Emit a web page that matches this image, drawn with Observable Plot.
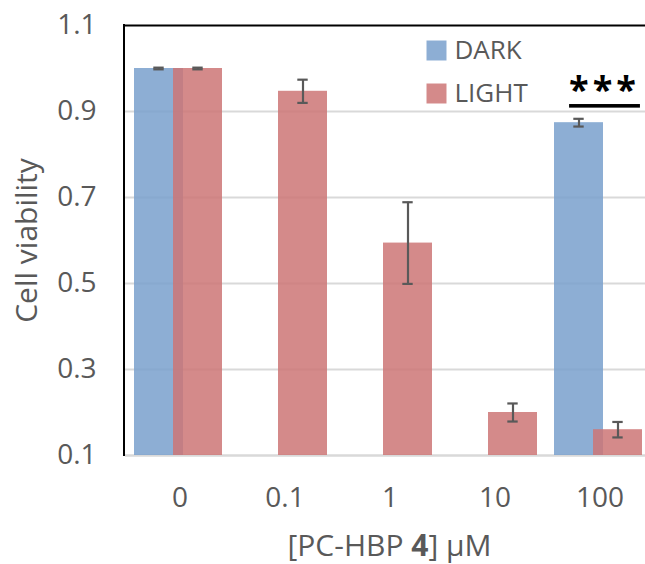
<!DOCTYPE html>
<html>
<head>
<meta charset="utf-8">
<script src="https://cdn.jsdelivr.net/npm/d3@7"></script>
<script src="https://cdn.jsdelivr.net/npm/@observablehq/plot@0.6"></script>
<style>
  html, body { margin: 0; padding: 0; background: white; overflow: hidden; }
</style>
</head>
<body>
<div id="chart"></div>
<script>
const categories = ["0", "0.1", "1", "10", "100"];
const series = ["DARK", "LIGHT"];
const darkValues = [1.000, null, null, null, 0.874];
const darkErrors = [0.002, null, null, null, 0.009];
const lightValues = [1.000, 0.947, 0.594, 0.200, 0.160];
const lightErrors = [0.002, 0.027, 0.095, 0.021, 0.018];
const yTicks = [0.1, 0.3, 0.5, 0.7, 0.9, 1.1];
const yDomain = [0.1, 1.1];
const seriesColors = ["#79A0CC", "#CC7676"];
const yTitle = "Cell viability";
const xTitleParts = ["[PC-HBP ", "4", "] \u03BCM"];
const significance = "***";

function rows(values, errors, s) {
  const out = [];
  categories.forEach((c, i) => {
    if (values[i] != null) out.push({category: c, series: s, value: values[i], err: errors[i]});
  });
  return out;
}
const darkRows = rows(darkValues, darkErrors, series[0]);
const lightRows = rows(lightValues, lightErrors, series[1]);
const caps = rs => rs.flatMap(d => [{category: d.category, y: d.value - d.err}, {category: d.category, y: d.value + d.err}]);

const textColor = "#595959";
const font = "Open Sans";

const errMarks = (rs, dx) => [
  Plot.ruleX(rs, {x: "category", y1: d => d.value - d.err, y2: d => d.value + d.err, dx, stroke: textColor, strokeWidth: 2.2}),
  Plot.tickY(caps(rs), {x: "category", y: "y", dx, insetLeft: 47.3, insetRight: 47.3, stroke: textColor, strokeWidth: 2.2})
];

const leftLine = (index, scales, values, dims) => {
  const l = document.createElementNS("http://www.w3.org/2000/svg", "line");
  l.setAttribute("x1", dims.marginLeft - 1);
  l.setAttribute("x2", dims.marginLeft - 1);
  l.setAttribute("y1", dims.marginTop - 1);
  l.setAttribute("y2", dims.height - dims.marginBottom + 1);
  l.setAttribute("stroke", "black");
  l.setAttribute("stroke-width", 2);
  return l;
};

const chart = Plot.plot({
  width: 645,
  height: 564,
  marginLeft: 125,
  marginRight: -8,
  marginTop: 25,
  marginBottom: 109,
  style: {fontFamily: font, color: textColor, background: "white"},
  x: {domain: categories, padding: 0, label: null},
  y: {domain: yDomain, label: null},
  marks: [
    Plot.ruleY(yTicks.slice(1, -1), {stroke: "#d9d9d9", strokeWidth: 2}),
    Plot.ruleY([yDomain[0]], {stroke: "#d9d9d9", strokeWidth: 2.5}),
    Plot.barY(darkRows, {x: "category", y1: yDomain[0], y2: "value", fill: seriesColors[0], fillOpacity: 0.85, insetLeft: 7, insetRight: 49}),
    Plot.barY(lightRows, {x: "category", y1: yDomain[0], y2: "value", fill: seriesColors[1], fillOpacity: 0.85, insetLeft: 46, insetRight: 10}),
    ...errMarks(darkRows, -21),
    ...errMarks(lightRows, 18),
    Plot.ruleY([yDomain[1]], {stroke: "black", strokeWidth: 2}),
    leftLine,
    Plot.axisY({ticks: yTicks, tickSize: 0, tickPadding: 29, tickFormat: d3.format(".1f"), fontSize: 28, label: null}),
    Plot.axisX({tickSize: 0, tickPadding: 32, fontSize: 28, label: null}),
    Plot.text([yTitle], {frameAnchor: "left", textAnchor: "middle", lineAnchor: "middle", rotate: -90, dx: -98, fontSize: 30, fill: textColor}),
    Plot.text([xTitleParts.join("")], {frameAnchor: "bottom", textAnchor: "middle", lineAnchor: "middle", dy: 91, fontSize: 30, fill: textColor}),
    Plot.dot([series[0]], {frameAnchor: "top-left", dx: 311, dy: 25, symbol: "square", r: 11.28, fill: seriesColors[0], fillOpacity: 0.85, stroke: null}),
    Plot.dot([series[1]], {frameAnchor: "top-left", dx: 311, dy: 68, symbol: "square", r: 11.28, fill: seriesColors[1], fillOpacity: 0.85, stroke: null}),
    Plot.text([series[0]], {frameAnchor: "top-left", dx: 329, dy: 25, textAnchor: "start", lineAnchor: "middle", fontSize: 26, fill: textColor}),
    Plot.text([series[1]], {frameAnchor: "top-left", dx: 329, dy: 68, textAnchor: "start", lineAnchor: "middle", fontSize: 26, fill: textColor}),
    Plot.text([significance], {frameAnchor: "top-left", dx: 479, dy: 65, textAnchor: "middle", lineAnchor: "middle", fontSize: 36, fontWeight: "bold", fill: "black"})
  ]
});

// bold "4" in the x title, spaced and underlined significance stars
d3.select(chart).selectAll("text").each(function() {
  const t = d3.select(this);
  if (this.textContent === xTitleParts.join("")) {
    t.text(null);
    t.append("tspan").text(xTitleParts[0]);
    t.append("tspan").attr("font-weight", "bold").text(xTitleParts[1]);
    t.append("tspan").text(xTitleParts[2]);
  } else if (this.textContent === significance) {
    t.style("letter-spacing", "4px")
     .style("text-decoration", "underline")
     .style("text-decoration-thickness", "2px");
  }
});

document.getElementById("chart").appendChild(chart);
</script>
</body>
</html>
